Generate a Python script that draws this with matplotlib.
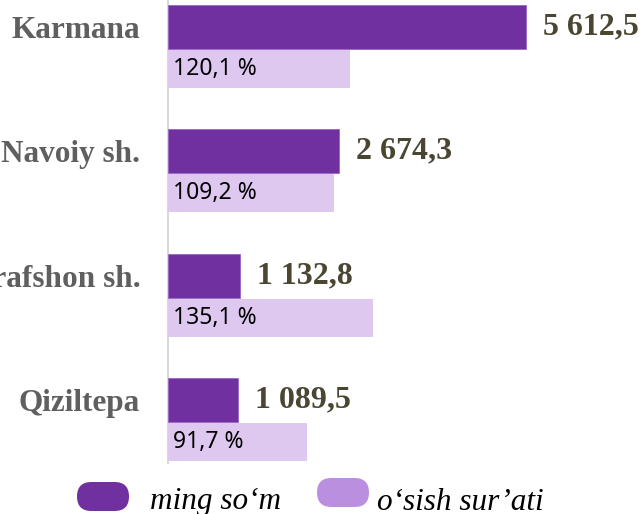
import matplotlib
matplotlib.use("Agg")
import matplotlib.pyplot as plt
from matplotlib.patches import FancyBboxPatch

# data
districts = ["Karmana", "Navoiy sh.", "Zarafshon sh.", "Qiziltepa"]
volume = [5612.5, 2674.3, 1132.8, 1089.5]          # ming so'm
growth = [120.1, 109.2, 135.1, 91.7]               # o'sish sur'ati, %
volume_labels = ["5 612,5", "2 674,3", "1 132,8", "1 089,5"]
growth_labels = ["120,1 %", "109,2 %", "135,1 %", "91,7 %"]
legend_labels = ["ming so\u2018m", "o\u2018sish sur\u2019ati"]

DARK = "#7030a0"
LIGHT = "#dfc8ef"
LIGHT_LEG = "#bb8fdf"

fig = plt.figure(figsize=(6.42, 5.14), dpi=100)
ax = fig.add_axes([168 / 642, 51 / 514, 474 / 642, 463 / 514])
ax2 = ax.twiny()

ypos = list(range(len(districts)))
off = 0.338

ax.barh(ypos, volume, height=0.354, color=DARK, edgecolor="#9a66c4", linewidth=0.6, zorder=3)
ax2.barh([y + off for y in ypos], growth, height=0.306, color=LIGHT, linewidth=0, zorder=2)

ax.set_xlim(0, 7430)
ax2.set_xlim(0, 312)
ax.set_ylim(3.508, -0.217)

for y, v, lab in zip(ypos, volume, volume_labels):
    ax.text(v + 270, y, lab, ha="left", va="center", family="Liberation Serif",
            fontweight="bold", fontsize=23, color="#4a4632", zorder=5)

for y, lab in zip(ypos, growth_labels):
    ax2.text(3, y + off, lab, ha="left", va="center", family="Noto Sans",
             fontsize=16.5, color="black", zorder=5)

ax.set_yticks(ypos)
ax.set_yticklabels(districts, family="Liberation Serif", fontweight="bold",
                   fontsize=22.5, color="#5f5f5f")
ax.tick_params(axis="y", length=0, pad=20)
ax.set_xticks([])
ax2.set_xticks([])

for a in (ax, ax2):
    for s in ("top", "right", "bottom", "left"):
        a.spines[s].set_visible(False)
ax.spines["left"].set_visible(True)
ax.spines["left"].set_color("#d9d9d9")
ax.spines["left"].set_linewidth(1.5)
ax.set_facecolor("none")

# legend pills
for (x0, y0), col, lab, tx in zip([(0.77, 0.03), (3.17, 0.07)], [DARK, LIGHT_LEG],
                                  legend_labels, [1.50, 3.77]):
    pill = FancyBboxPatch((x0, y0), 0.52, 0.29, boxstyle="round,pad=0,rounding_size=0.145",
                          transform=fig.dpi_scale_trans, facecolor=col, edgecolor="none")
    fig.patches.append(pill)
    fig.text(tx / 6.42, 0.12 / 5.14, lab, ha="left", va="center", family="Liberation Serif",
             style="italic", fontsize=22.5, color="black")

fig.savefig("out.png", dpi=100)
